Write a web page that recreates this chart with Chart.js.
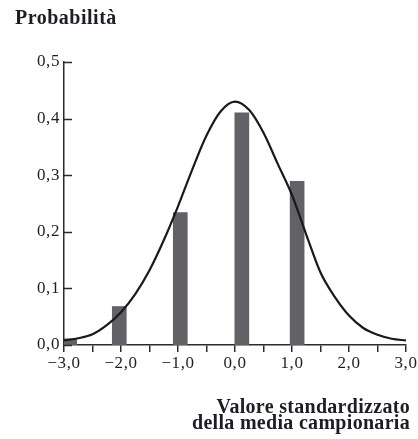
<!DOCTYPE html>
<html lang="it">
<head>
<meta charset="utf-8">
<title>Probabilità della media campionaria standardizzata</title>
<script src="https://cdn.jsdelivr.net/npm/chart.js@4.4.1/dist/chart.umd.min.js"></script>
<style>
  html, body { margin: 0; padding: 0; background: #ffffff; }
  #wrap { position: relative; width: 418px; height: 439px; }
  #grafico { position: absolute; left: 0; top: 0; }
  .titolo {
    position: absolute;
    font-family: "Liberation Serif", "Times New Roman", serif;
    font-weight: bold;
    color: #1d1d26;
    white-space: nowrap;
  }
  #titoloY { left: 15px; top: 7px; font-size: 20px; line-height: 20px; letter-spacing: 0.5px; }
  #titoloX { right: 8px; top: 398px; font-size: 20px; line-height: 16px; text-align: right; letter-spacing: 0.3px; }
</style>
</head>
<body>
<div id="wrap">
  <canvas id="grafico" width="418" height="439"></canvas>
  <div class="titolo" id="titoloY">Probabilità</div>
  <div class="titolo" id="titoloX">Valore standardizzato<br>della media campionaria</div>
</div>
<script>
// Istogramma: posizione del centro di ogni barra e probabilità
const barreX = [-2.9, -2.03, -0.96, 0.12, 1.09];
const barreProb = [0.011, 0.068, 0.234, 0.41, 0.289];

// Curva di densità: punti letti lungo la curva
const curvaX = [-3.0, -2.75, -2.5, -2.25, -2.0, -1.75, -1.5, -1.25, -1.0, -0.75, -0.5, -0.25, 0.0,
                0.25, 0.5, 0.75, 1.0, 1.25, 1.5, 1.75, 2.0, 2.25, 2.5, 2.75, 3.0];
const curvaY = [0.008, 0.012, 0.019, 0.035, 0.058, 0.09, 0.132, 0.185, 0.245, 0.31, 0.37, 0.413, 0.43,
                0.415, 0.375, 0.32, 0.265, 0.195, 0.128, 0.085, 0.052, 0.03, 0.018, 0.011, 0.008];

// Etichette degli assi
const etichetteX = ['−3,0', '−2,0', '−1,0', '0,0', '1,0', '2,0', '3,0'];
const etichetteY = ['0,0', '0,1', '0,2', '0,3', '0,4', '0,5'];

const coloreAsse = '#2b2b2b';
const coloreTesto = '#1d1d26';
const fontTick = { family: '"Liberation Serif", "Times New Roman", serif', size: 17 };

// Spaziatura leggermente più ampia per le etichette numeriche
const spaziatura = {
  id: 'spaziatura',
  beforeDraw(chart) { chart.ctx.letterSpacing = '0.6px'; }
};

// Tacche dell'asse verticale rivolte verso l'interno del grafico
const taccheInterne = {
  id: 'taccheInterne',
  afterDraw(chart) {
    const { ctx, chartArea, scales } = chart;
    ctx.save();
    ctx.strokeStyle = coloreAsse;
    ctx.lineWidth = 1.5;
    for (let i = 0; i < etichetteY.length; i++) {
      const y = Math.round(scales.y.getPixelForValue(i / 10)) + 0.5;
      ctx.beginPath();
      ctx.moveTo(chartArea.left, y);
      ctx.lineTo(chartArea.left + 8, y);
      ctx.stroke();
    }
    ctx.restore();
  }
};

const serieBarre = barreX.map((x, i) => ({ x: x, y: barreProb[i] }));
const serieCurva = curvaX.map((x, i) => ({ x: x, y: curvaY[i] }));

new Chart(document.getElementById('grafico'), {
  type: 'bar',
  data: {
    datasets: [
      {
        type: 'line',
        data: serieCurva,
        borderColor: '#1a1a1a',
        borderWidth: 2.2,
        pointRadius: 0,
        cubicInterpolationMode: 'monotone',
        fill: false,
        order: 0
      },
      {
        type: 'bar',
        data: serieBarre,
        backgroundColor: '#626266',
        borderWidth: 0,
        barThickness: 14,
        order: 1
      }
    ]
  },
  options: {
    responsive: false,
    animation: false,
    events: [],
    layout: { padding: { top: 62, right: 12, left: 0, bottom: 0 } },
    plugins: { legend: { display: false }, tooltip: { enabled: false }, title: { display: false } },
    scales: {
      x: {
        type: 'linear',
        min: -3,
        max: 3,
        offset: false,
        afterFit(scale) { scale.height = 94; },
        afterBuildTicks(scale) {
          const t = [];
          for (let k = 0; k <= 12; k++) t.push({ value: -3 + k * 0.5 });
          scale.ticks = t;
        },
        ticks: {
          autoSkip: false,
          maxRotation: 0,
          padding: 1,
          color: coloreTesto,
          font: fontTick,
          callback(value) {
            const idx = Math.round(value + 3);
            return Math.abs(value - Math.round(value)) < 1e-6 ? etichetteX[idx] : '';
          }
        },
        grid: {
          offset: false,
          drawOnChartArea: false,
          drawTicks: true,
          tickLength: 7,
          color: coloreAsse,
          lineWidth: 1.5
        },
        border: { display: true, color: coloreAsse, width: 1.5 }
      },
      y: {
        min: 0,
        max: 0.5,
        afterFit(scale) { scale.width = 64; },
        ticks: {
          stepSize: 0.1,
          padding: 4,
          color: coloreTesto,
          font: fontTick,
          callback(value) { return etichetteY[Math.round(value * 10)]; }
        },
        grid: { display: false, drawTicks: false },
        border: { display: true, color: coloreAsse, width: 1.5 }
      }
    }
  },
  plugins: [spaziatura, taccheInterne]
});
</script>
</body>
</html>
